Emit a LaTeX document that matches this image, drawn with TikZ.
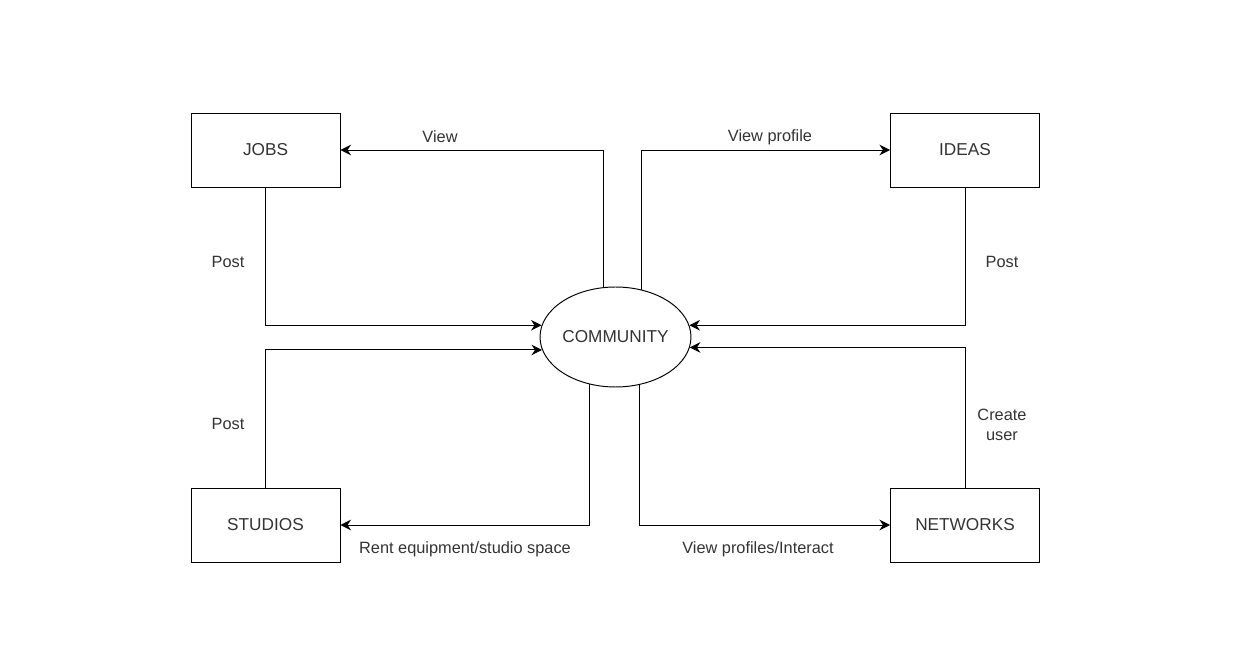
\documentclass[tikz,border=0pt]{standalone}
\usepackage{fontspec}
\setmainfont{Liberation Sans}
\usetikzlibrary{arrows.meta, shapes.geometric}
\definecolor{ink}{HTML}{333333}

\tikzset{
    box/.style={draw=black, line width=0.55pt, minimum width=2.98cm, minimum height=1.48cm, text=ink, font=\fontsize{9.8}{12}\selectfont},
    hub/.style={draw=black, ellipse, line width=0.55pt, minimum width=3.02cm, minimum height=2cm, inner sep=0pt, text=ink, font=\fontsize{9.8}{12}\selectfont},
    arr/.style={-{Stealth[length=6pt, width=6pt]}, line width=0.55pt},
    lbl/.style={text=ink, align=center, inner sep=1pt}
}

\begin{document}
\begin{tikzpicture}[x=0.02cm, y=-0.02cm, font=\fontsize{9.3}{11}\selectfont]
    \useasboundingbox (0,0) rectangle (1255,665);

    \node[box] (jobs) at (265.5,150) {JOBS};
    \node[box] (ideas) at (965,150) {IDEAS};
    \node[box] (studios) at (265.5,525) {STUDIOS};
    \node[box] (networks) at (965,525) {NETWORKS};
    \node[hub] (comm) at (615.5,337) {COMMUNITY};

    \draw[arr] (comm.104) |- (jobs.east);
    \draw[arr] (comm.61.5) |- (ideas.west);
    \draw[arr] (jobs.south) |- (comm.171);
    \draw[arr] (ideas.south) |- (comm.9);
    \draw[arr] (studios.north) |- (comm.190);
    \draw[arr] (networks.north) |- (comm.352);
    \draw[arr] (comm.241.5) |- (studios.east);
    \draw[arr] (comm.297.5) |- (networks.west);

    \node[lbl] (view) at (440,137) {View};
    \node[lbl] (viewprofile) at (770,137) {View profile};
    \node[lbl] (postjobs) at (228,262) {Post};
    \node[lbl] (postideas) at (1002,262) {Post};
    \node[lbl] (poststudios) at (228,424) {Post};
    \node[lbl] (createuser) at (1002,425) {Create\\user};
    \node[lbl] (rent) at (465,549) {Rent equipment/studio space};
    \node[lbl] (interact) at (758,549) {View profiles/Interact};
\end{tikzpicture}
\end{document}
